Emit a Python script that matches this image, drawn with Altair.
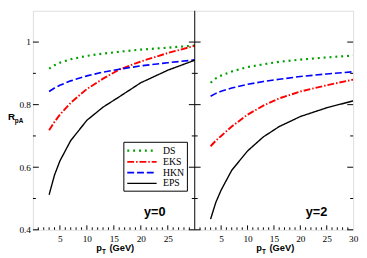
import altair as alt
import pandas as pd

# ---- data ----
pt = [3, 4, 5, 7, 10, 13, 16, 20, 25, 30]
models = ["DS", "EKS", "HKN", "EPS"]

# y = 0 panel
ds_y0 = [0.915, 0.926, 0.934, 0.945, 0.956, 0.963, 0.969, 0.976, 0.982, 0.989]
eks_y0 = [0.718, 0.745, 0.768, 0.806, 0.850, 0.883, 0.912, 0.938, 0.965, 0.988]
hkn_y0 = [0.842, 0.853, 0.862, 0.876, 0.892, 0.904, 0.913, 0.924, 0.934, 0.943]
eps_y0 = [0.512, 0.575, 0.620, 0.685, 0.750, 0.792, 0.825, 0.870, 0.910, 0.942]

# y = 2 panel
ds_y2 = [0.870, 0.884, 0.893, 0.906, 0.920, 0.929, 0.937, 0.944, 0.951, 0.957]
eks_y2 = [0.667, 0.685, 0.700, 0.730, 0.768, 0.797, 0.820, 0.842, 0.862, 0.880]
hkn_y2 = [0.827, 0.836, 0.843, 0.853, 0.865, 0.874, 0.881, 0.890, 0.898, 0.905]
eps_y2 = [0.434, 0.488, 0.527, 0.590, 0.652, 0.697, 0.730, 0.762, 0.790, 0.812]

colors = ["#00a000", "#ff0000", "#0000ff", "#000000"]
dashes = [[2, 4], [7, 2, 1.5, 2], [7, 3], [1, 0]]
widths = [2.2, 1.4, 1.4, 1.4]

x_labels_left = [5, 10, 15, 20, 25]
x_labels_right = [5, 10, 15, 20, 25, 30]
x_major = [5, 10, 15, 20, 25]
x_minor = [1, 2, 3, 4, 6, 7, 8, 9, 11, 12, 13, 14, 16, 17, 18, 19, 21, 22, 23, 24, 26, 27, 28, 29]
y_labels = [0.4, 0.6, 0.8, 1.0]
y_major = [0.4, 0.6, 0.8, 1.0]
y_minor = [0.5, 0.7, 0.9]

# ---- layout ----
W1 = 165.5
W2 = 162.0
W = W1 + W2
H = 224
SERIF = "Liberation Serif"
SANS = "Liberation Sans"


def curves(vals):
    rows = []
    for m, v in zip(models, vals):
        for p, r in zip(pt, v):
            rows.append({"pt": p, "R": r, "model": m})
    return pd.DataFrame(rows)


df0 = curves([ds_y0, eks_y0, hkn_y0, eps_y0])
df2 = curves([ds_y2, eks_y2, hkn_y2, eps_y2])

legend = alt.Legend(
    title=None, orient="none", legendX=92.5, legendY=134,
    symbolType="M-1,0H5", symbolSize=100, symbolStrokeWidth=2,
    labelFont=SERIF, labelFontSize=10, labelColor="black", labelOffset=25,
    strokeColor="black", fillColor="white", padding=2.5, rowPadding=0,
)
color = alt.Color("model:N", scale=alt.Scale(domain=models, range=colors), legend=legend)
dash = alt.StrokeDash("model:N", scale=alt.Scale(domain=models, range=dashes), legend=legend)
sw = alt.StrokeWidth("model:N", scale=alt.Scale(domain=models, range=widths), legend=None)

Y = alt.Y("R:Q", scale=alt.Scale(domain=[0.4, 1.1], nice=False, zero=False),
          axis=alt.Axis(values=y_labels, format=".1~f", tickSize=0, domain=False, grid=False,
                        title=None, labelFont=SERIF, labelFontSize=9.5, labelColor="black",
                        labelPadding=2.5))


def xenc(rng, labels):
    return alt.X("pt:Q", scale=alt.Scale(domain=[0, 30], range=rng, nice=False, zero=False),
                 axis=alt.Axis(values=labels, orient="bottom", tickSize=0, domain=False, grid=False,
                               title=None, labelFont=SERIF, labelFontSize=9.5, labelColor="black",
                               labelPadding=4, labelFlush=False, labelOverlap=False))


XL = xenc([0, W1], x_labels_left)
XR = xenc([W1, W], x_labels_right)

ticks_major = pd.DataFrame({"pt": x_major})
ticks_minor = pd.DataFrame({"pt": x_minor})
ym = pd.DataFrame({"R": y_major})
yn = pd.DataFrame({"R": y_minor})


def xticks(X):
    a = alt.Chart(ticks_major).mark_rule(color="black", strokeWidth=1).encode(
        x=X, y=alt.value(H), y2=alt.value(H - 4.5))
    b = alt.Chart(ticks_minor).mark_rule(color="black", strokeWidth=1).encode(
        x=X, y=alt.value(H), y2=alt.value(H - 2.5))
    return [a, b]


def yticks(x0, sign):
    a = alt.Chart(ym).mark_rule(color="black", strokeWidth=1).encode(
        y=Y, x=alt.value(x0), x2=alt.value(x0 + sign * 6))
    b = alt.Chart(yn).mark_rule(color="black", strokeWidth=1).encode(
        y=Y, x=alt.value(x0), x2=alt.value(x0 + sign * 3))
    return [a, b]


def label(text, x, y, size, bold=True, font=SANS):
    return alt.Chart(pd.DataFrame({"t": [text]})).mark_text(
        align="left", baseline="alphabetic", font=font, fontSize=size,
        fontWeight="bold" if bold else "normal", color="black"
    ).encode(text="t:N", x=alt.value(x), y=alt.value(y))


def ptitle(cx):
    x0 = cx - 18
    return [label("p", x0, H + 22, 9.5), label("T", x0 + 5.8, H + 24.5, 6.5),
            label("(GeV)", x0 + 13.5, H + 22, 9.5)]


curves_left = alt.Chart(df0).mark_line(clip=True).encode(
    x=XL, y=Y, color=color, strokeDash=dash, strokeWidth=sw, order="pt:Q")
curves_right = alt.Chart(df2).mark_line(clip=True).encode(
    x=XR, y=Y, color=color, strokeDash=dash, strokeWidth=sw, order="pt:Q")

divider = alt.Chart(pd.DataFrame({"d": [0]})).mark_rule(color="black", strokeWidth=1).encode(
    x=alt.value(W1), y=alt.value(0), y2=alt.value(H))

left = alt.layer(
    curves_left, *xticks(XL),
    *yticks(0, 1), *yticks(W1, -1), *yticks(W1, 1), *yticks(W, -1),
    divider,
    label("y=0", 113.5, 210, 13), *ptitle(W1 / 2),
    label("R", -25.5, 112, 10), label("pA", -18.5, 115, 6.5),
)
right = alt.layer(
    curves_right, *xticks(XR),
    label("y=2", 279, 210, 13), *ptitle(W1 + W2 / 2),
)

chart = alt.layer(left, right).resolve_scale(x="independent").properties(
    width=W, height=H,
    autosize=alt.AutoSizeParams(type="none"),
    padding={"left": 25.5, "top": 0, "right": 6, "bottom": 26},
).configure_view(stroke="black", strokeWidth=1).configure(background="white")

chart.save("out.html", embed_options={"renderer": "svg", "actions": False})
